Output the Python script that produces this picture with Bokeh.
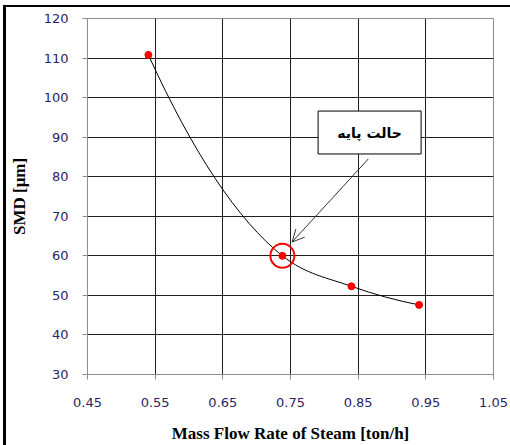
from bokeh.plotting import figure
from bokeh.models import Range1d, FixedTicker, Arrow, OpenHead
from bokeh.core.properties import value
from bokeh.embed import file_html
from bokeh.resources import INLINE

# ---- data ----
steam_flow = [0.54, 0.738, 0.84, 0.94]      # ton/h
smd = [110.8, 60.0, 52.3, 47.6]              # micrometre
x_ticks = [0.45, 0.55, 0.65, 0.75, 0.85, 0.95, 1.05]
y_ticks = [30, 40, 50, 60, 70, 80, 90, 100, 110, 120]
base_case_index = 1
base_case_label = "حالت پایه"

# annotation geometry (data units)
box_left, box_right, box_bottom, box_top = 0.7908, 0.943, 85.75, 96.6
arrow_start = (0.865, 84.5)
arrow_end = (0.7524, 63.5)

frame_edges_css = (
    ":host { position: relative; }"
    ":host::before { content: ''; position: absolute; left: 3px; top: 5px; right: 0; height: 2px;"
    " background: black; z-index: 10; }"
    ":host::after { content: ''; position: absolute; left: 3px; top: 5px; bottom: 0; width: 3px;"
    " background: black; z-index: 10; }"
)

p = figure(width=510, height=445, output_backend="svg", toolbar_location=None,
           x_range=Range1d(0.45, 1.05), y_range=Range1d(30, 120),
           min_border_left=87, min_border_right=17, min_border_top=18, min_border_bottom=67,
           stylesheets=[frame_edges_css])
p.background_fill_color = "white"
p.border_fill_color = "white"
p.outline_line_color = "#8c8c8c"
p.outline_line_width = 1

p.xaxis.ticker = FixedTicker(ticks=x_ticks)
p.yaxis.ticker = FixedTicker(ticks=y_ticks)
p.xaxis.major_label_overrides = {t: f"{t:.2f}" for t in x_ticks}
p.xgrid.ticker = FixedTicker(ticks=x_ticks[1:-1])
p.ygrid.ticker = FixedTicker(ticks=y_ticks[1:-1])
for g in (p.xgrid, p.ygrid):
    g.grid_line_color = "#1e1e1e"
    g.grid_line_width = 1

for ax in (p.xaxis, p.yaxis):
    ax.axis_line_color = "#8c8c8c"
    ax.major_tick_line_color = "#8c8c8c"
    ax.major_tick_out = 5
    ax.major_tick_in = 0
    ax.minor_tick_line_color = None
    ax.major_label_text_font = "DejaVu Sans"
    ax.major_label_text_font_size = "13px"
    ax.major_label_text_color = "#2a2565"
    ax.axis_label_text_font = "Liberation Serif"
    ax.axis_label_text_font_style = "bold"
    ax.axis_label_text_font_size = "17px"
    ax.axis_label_text_color = "black"

p.xaxis.major_label_standoff = 18
p.yaxis.major_label_standoff = 14
p.xaxis.axis_label = "Mass Flow Rate of Steam [ton/h]"
p.yaxis.axis_label = "SMD [μm]"
p.xaxis.axis_label_standoff = 14
p.yaxis.axis_label_standoff = 12

# smoothed line: cubic Hermite segments (as Bezier) with non-uniform three-point slopes
n = len(steam_flow)
h = [steam_flow[i + 1] - steam_flow[i] for i in range(n - 1)]
s = [(smd[i + 1] - smd[i]) / h[i] for i in range(n - 1)]
d = [0.0] * n
for i in range(1, n - 1):
    d[i] = (h[i] * s[i - 1] + h[i - 1] * s[i]) / (h[i - 1] + h[i])
d[0] = s[0] + (s[0] - s[1]) * h[0] / (h[0] + h[1])
d[-1] = s[-1] + (s[-1] - s[-2]) * h[-1] / (h[-1] + h[-2])
x0s, y0s, x1s, y1s, cx0, cy0, cx1, cy1 = [], [], [], [], [], [], [], []
for i in range(n - 1):
    x0s.append(steam_flow[i]); y0s.append(smd[i])
    x1s.append(steam_flow[i + 1]); y1s.append(smd[i + 1])
    cx0.append(steam_flow[i] + h[i] / 3); cy0.append(smd[i] + d[i] * h[i] / 3)
    cx1.append(steam_flow[i + 1] - h[i] / 3); cy1.append(smd[i + 1] - d[i + 1] * h[i] / 3)
p.bezier(x0=x0s, y0=y0s, x1=x1s, y1=y1s, cx0=cx0, cy0=cy0, cx1=cx1, cy1=cy1,
         line_color="black", line_width=1)

p.scatter(steam_flow, smd, size=7, color="#ff0000")

# base case highlight
p.scatter([steam_flow[base_case_index]], [smd[base_case_index]], size=24,
          fill_color=None, line_color="#ff0000", line_width=2)

# callout box
p.quad(left=[box_left], right=[box_right], bottom=[box_bottom], top=[box_top],
       fill_color="white", line_color="black", line_width=1)
p.text(x=[(box_left + box_right) / 2], y=[(box_bottom + box_top) / 2], text=[base_case_label],
       text_font=value("DejaVu Sans"), text_font_style="bold", text_font_size="14px",
       text_align="center", text_baseline="middle", text_color="black")

p.add_layout(Arrow(end=OpenHead(size=12, line_color="#333333", line_width=1),
                   x_start=arrow_start[0], y_start=arrow_start[1],
                   x_end=arrow_end[0], y_end=arrow_end[1],
                   line_color="#333333", line_width=1))

open("out.html", "w").write(file_html(p, INLINE))
